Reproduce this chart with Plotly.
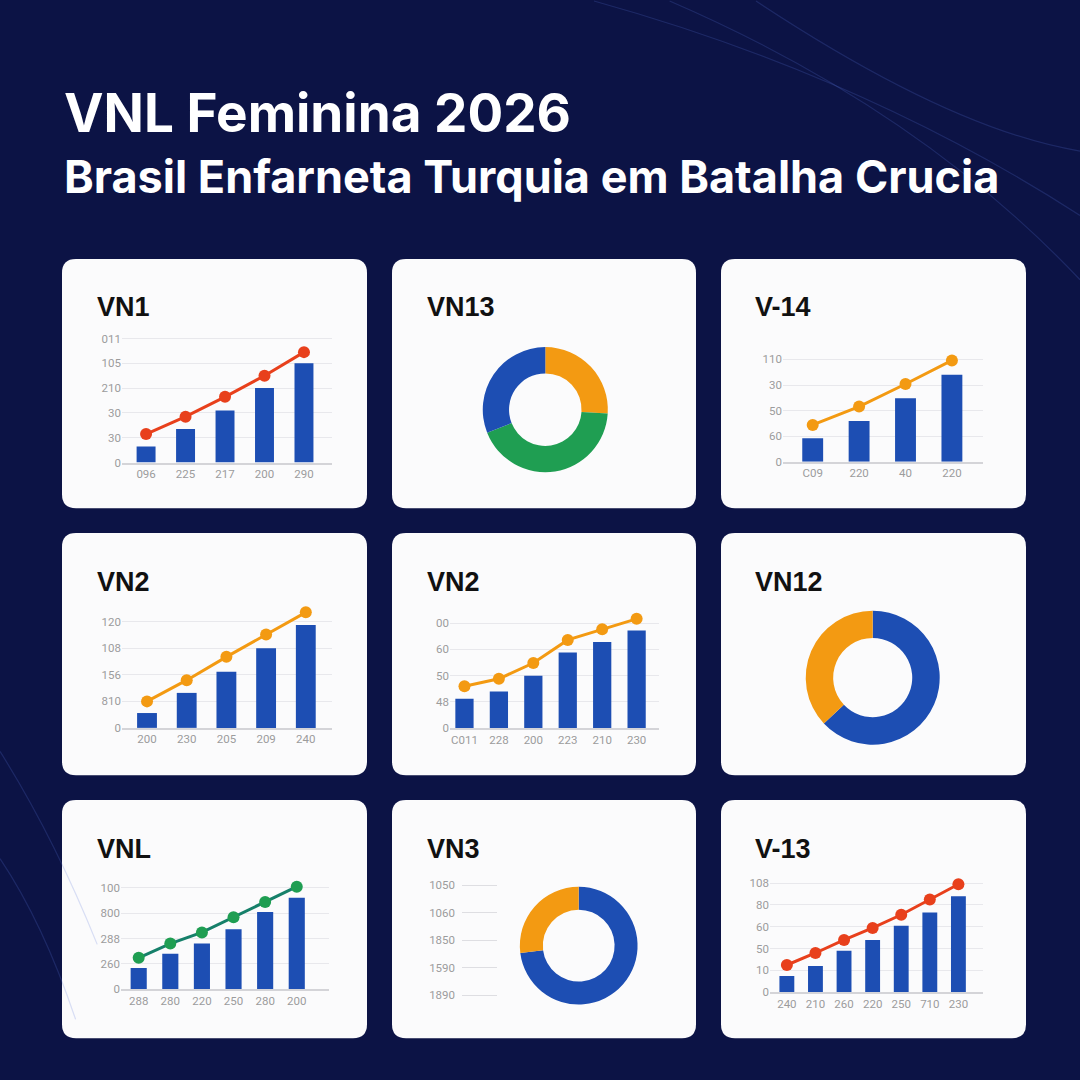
import plotly.graph_objects as go

W = H = 1080

# ---------------- data ----------------
title_main = "VNL Feminina 2026"
title_sub = "Brasil Enfarneta Turquia em Batalha Crucia"

# Panel VN1 (top-left)
vn1_cats = ["096", "225", "217", "200", "290"]
vn1_bars = [13, 27, 42, 60, 80]
vn1_line = [23, 37, 53, 70, 89]
vn1_ytickvals = [0, 20, 40, 60, 80, 100]
vn1_yticktext = ["0", "30", "30", "210", "105", "011"]

# Panel VN13 donut (top-middle)
vn13_labels = ["A", "B", "C"]
vn13_values = [26, 43, 31]

# Panel V-14 (top-right)
v14_cats = ["C09", "220", "40", "220"]
v14_bars = [23, 40, 62, 85]
v14_line = [36, 54, 76, 99]
v14_ytickvals = [0, 25, 50, 75, 100]
v14_yticktext = ["0", "60", "50", "30", "110"]

# Panel VN2 (middle-left)
vn2a_cats = ["200", "230", "205", "209", "240"]
vn2a_bars = [14, 33, 53, 75, 97]
vn2a_line = [25, 45, 67, 88, 109]
vn2a_ytickvals = [0, 25, 50, 75, 100]
vn2a_yticktext = ["0", "810", "156", "108", "120"]

# Panel VN2 (centre)
vn2b_cats = ["C011", "228", "200", "223", "210", "230"]
vn2b_bars = [28, 35, 50, 72, 82, 93]
vn2b_line = [40, 47, 62, 84, 94, 104]
vn2b_ytickvals = [0, 25, 50, 75, 100]
vn2b_yticktext = ["0", "48", "50", "60", "00"]

# Panel VN12 donut (middle-right)
vn12_labels = ["A", "B"]
vn12_values = [63, 37]

# Panel VNL (bottom-left)
vnl_cats = ["288", "280", "220", "250", "280", "200"]
vnl_bars = [21, 35, 45, 59, 76, 90]
vnl_line = [31, 45, 56, 71, 86, 101]
vnl_ytickvals = [0, 25, 50, 75, 100]
vnl_yticktext = ["0", "260", "288", "800", "100"]

# Panel VN3 donut (bottom-middle) with side scale
vn3_labels = ["A", "B"]
vn3_values = [73, 27]
vn3_side_vals = [4, 3, 2, 1, 0]
vn3_side_text = ["1050", "1060", "1850", "1590", "1890"]

# Panel V-13 (bottom-right)
v13_cats = ["240", "210", "260", "220", "250", "710", "230"]
v13_bars = [15, 24, 38, 48, 61, 73, 88]
v13_line = [25, 36, 48, 59, 71, 85, 99]
v13_ytickvals = [0, 20, 40, 60, 80, 100]
v13_yticktext = ["0", "10", "50", "60", "80", "108"]

# ---------------- styles ----------------
BG = "#0c1345"
CARD = "#fbfbfc"
BLUE = "#1d4eb3"
RED = "#e8401c"
ORANGE = "#f39a12"
GREEN = "#1f9e52"
TEAL = "#16806a"
GRID = "#e8e8ec"
TICK = dict(size=11.5, color="#9c9c9c", family="Roboto")


def px(x):
    return x / W


def py(y):
    return 1 - y / H


def rrect(x0, y0, x1, y1, r=14):
    X0, X1 = px(x0), px(x1)
    T, B = py(y0), py(y1)
    R = r / W
    return (f"M {X0+R},{T} L {X1-R},{T} Q {X1},{T} {X1},{T-R} "
            f"L {X1},{B+R} Q {X1},{B} {X1-R},{B} L {X0+R},{B} "
            f"Q {X0},{B} {X0},{B+R} L {X0},{T-R} Q {X0},{T} {X0+R},{T} Z")


fig = go.Figure()
layout = {}
shapes = []
annotations = []

cols = [(62, 367), (392, 696), (721, 1026)]
rows = [(260, 511), (536, 780), (805, 1045)]
for (x0, x1) in cols:
    for (y0, y1) in rows:
        shapes.append(dict(type="path", path=rrect(x0, y0, x1, y1), xref="paper", yref="paper",
                           fillcolor=CARD, line=dict(width=0), layer="below"))

# decorative faint curves in background
deco = [
    "M 0.55,1.0 Q 0.80,0.93 1.0,0.80",
    "M 0.62,1.0 Q 0.85,0.90 1.0,0.74",
    "M 0.70,1.0 Q 0.88,0.88 1.0,0.86",
    "M 0.0,0.30 Q 0.05,0.22 0.09,0.12",
    "M 0.0,0.20 Q 0.04,0.14 0.07,0.05",
]
for d in deco:
    shapes.append(dict(type="path", path=d, xref="paper", yref="paper",
                       line=dict(color="rgba(90,120,220,0.22)", width=1.2), layer="below"))

card_titles = [
    ("VN1", 95, 308), ("VN13", 425, 308), ("V-14", 753, 308),
    ("VN2", 95, 585), ("VN2", 425, 585), ("VN12", 753, 585),
    ("VNL", 95, 854), ("VN3", 425, 854), ("V-13", 753, 854),
]
for t, x, y in card_titles:
    annotations.append(dict(text=f"<b>{t}</b>", x=px(x), y=py(y), xref="paper", yref="paper",
                            xanchor="left", yanchor="middle", showarrow=False,
                            font=dict(size=27, color="#111111", family="Liberation Sans")))

annotations.append(dict(text=f"<b>{title_main}</b>", x=px(62), y=py(113), xref="paper", yref="paper",
                        xanchor="left", yanchor="middle", showarrow=False,
                        font=dict(size=53, color="white", family="Inter")))
annotations.append(dict(text=f"<b>{title_sub}</b>", x=px(62), y=py(177), xref="paper", yref="paper",
                        xanchor="left", yanchor="middle", showarrow=False,
                        font=dict(size=45, color="white", family="Inter")))

bar_panels = [
    dict(cats=vn1_cats, bars=vn1_bars, line=vn1_line, tv=vn1_ytickvals, tt=vn1_yticktext,
         color=RED, lcolor=RED, base=465, gpx=25, step=20, ymax=106, xl=122, xr=332,
         xrange=[-0.61, 4.71], width=0.48),
    dict(cats=v14_cats, bars=v14_bars, line=v14_line, tv=v14_ytickvals, tt=v14_yticktext,
         color=ORANGE, lcolor=ORANGE, base=464.3, gpx=25.8, step=25, ymax=108, xl=783, xr=983,
         xrange=[-0.64, 3.67], width=0.45),
    dict(cats=vn2a_cats, bars=vn2a_bars, line=vn2a_line, tv=vn2a_ytickvals, tt=vn2a_yticktext,
         color=ORANGE, lcolor=ORANGE, base=732.3, gpx=26.7, step=25, ymax=116, xl=122, xr=332,
         xrange=[-0.63, 4.66], width=0.5),
    dict(cats=vn2b_cats, bars=vn2b_bars, line=vn2b_line, tv=vn2b_ytickvals, tt=vn2b_yticktext,
         color=ORANGE, lcolor=ORANGE, base=732.7, gpx=26.5, step=25, ymax=110, xl=450, xr=659,
         xrange=[-0.42, 5.65], width=0.53),
    dict(cats=vnl_cats, bars=vnl_bars, line=vnl_line, tv=vnl_ytickvals, tt=vnl_yticktext,
         color=GREEN, lcolor=TEAL, base=995.7, gpx=25.6, step=25, ymax=108, xl=121, xr=329,
         xrange=[-0.56, 6.02], width=0.51),
    dict(cats=v13_cats, bars=v13_bars, line=v13_line, tv=v13_ytickvals, tt=v13_yticktext,
         color=RED, lcolor=RED, base=998.7, gpx=22, step=20, ymax=106, xl=770, xr=983,
         xrange=[-0.59, 6.86], width=0.52),
]

ax = 1
for p in bar_panels:
    xa = "x" if ax == 1 else f"x{ax}"
    ya = "y" if ax == 1 else f"y{ax}"
    n = len(p["cats"])
    xs = list(range(n))
    top_px = p["base"] - p["ymax"] / p["step"] * p["gpx"]
    fig.add_trace(go.Bar(x=xs, y=p["bars"], xaxis=xa, yaxis=ya, marker=dict(color=BLUE, line=dict(width=0)),
                         width=p["width"], showlegend=False, hoverinfo="skip"))
    fig.add_trace(go.Scatter(x=xs, y=p["line"], xaxis=xa, yaxis=ya, mode="lines+markers",
                             line=dict(color=p["lcolor"], width=3),
                             marker=dict(color=p["color"], size=12), cliponaxis=False,
                             showlegend=False, hoverinfo="skip"))
    layout[f"xaxis{'' if ax == 1 else ax}"] = dict(
        domain=[px(p["xl"]), px(p["xr"])], anchor=ya, range=p["xrange"],
        tickvals=xs, ticktext=p["cats"], showgrid=False, zeroline=False,
        showline=True, linecolor="#d4d4d8", linewidth=1.5, ticks="", tickfont=TICK, fixedrange=True)
    layout[f"yaxis{'' if ax == 1 else ax}"] = dict(
        domain=[py(p["base"]), py(top_px)], anchor=xa, range=[0, p["ymax"]],
        tickvals=p["tv"], ticktext=p["tt"], showgrid=True, gridcolor=GRID, gridwidth=1,
        zeroline=False, showline=False, ticks="", tickfont=TICK, fixedrange=True)
    ax += 1

# side scale for VN3 panel
xa = f"x{ax}"
ya = f"y{ax}"
sp = 27.75
fig.add_trace(go.Scatter(x=[], y=[], xaxis=xa, yaxis=ya, showlegend=False))
layout[f"xaxis{ax}"] = dict(domain=[px(462), px(497)], anchor=ya, range=[0, 1], visible=False)
layout[f"yaxis{ax}"] = dict(domain=[py(1001.7 + 0.2 * sp), py(890.7 - 0.2 * sp)], anchor=xa,
                            range=[-0.2, 4.2], tickvals=vn3_side_vals, ticktext=vn3_side_text,
                            showgrid=True, gridcolor="#dedee2", zeroline=False, showline=False,
                            ticks="", tickfont=TICK, ticklabelstandoff=6)

# donuts
donuts = [
    (vn13_labels, vn13_values, [ORANGE, GREEN, BLUE], 545.3, 411.7, 63, 0.58),
    (vn12_labels, vn12_values, [BLUE, ORANGE], 872.7, 681.7, 67.5, 0.59),
    (vn3_labels, vn3_values, [BLUE, ORANGE], 578.7, 951.7, 59.3, 0.61),
]
for labels, vals, colors, cx, cy, r, hole in donuts:
    fig.add_trace(go.Pie(labels=labels, values=vals, hole=hole, sort=False, direction="clockwise",
                         rotation=0, textinfo="none", hoverinfo="skip", showlegend=False,
                         marker=dict(colors=colors, line=dict(width=0)),
                         domain=dict(x=[px(cx - r), px(cx + r)], y=[py(cy + r), py(cy - r)])))

fig.update_layout(width=W, height=H, margin=dict(l=0, r=0, t=0, b=0),
                  paper_bgcolor=BG, plot_bgcolor="rgba(0,0,0,0)",
                  shapes=shapes, annotations=annotations, showlegend=False, **layout)

fig.write_html("out.html", config={"displayModeBar": False})
